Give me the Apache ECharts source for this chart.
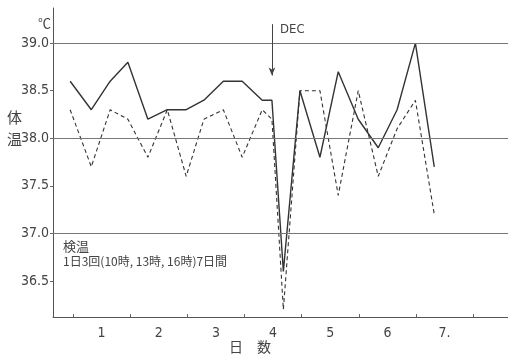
<!DOCTYPE html>
<html><head><meta charset="utf-8">
<script src="https://cdn.jsdelivr.net/npm/echarts@6/dist/echarts.min.js"></script>
<style>html,body{margin:0;padding:0;background:#fff}#c{width:508px;height:360px}</style>
</head><body><div id="c"></div>
<script>
const readingDays = [0.45,0.82,1.15,1.46,1.81,2.15,2.48,2.79,3.13,3.46,3.81,3.98,4.18,4.47,4.82,5.14,5.49,5.84,6.17,6.49,6.82];
const solidTemps = [38.6,38.3,38.6,38.8,38.2,38.3,38.3,38.4,38.6,38.6,38.4,38.4,36.6,38.5,37.8,38.7,38.2,37.9,38.3,39.0,37.7];
const dashedTemps = [38.3,37.7,38.3,38.2,37.8,38.3,37.6,38.2,38.3,37.8,38.3,38.2,36.2,38.5,38.5,37.4,38.5,37.6,38.1,38.4,37.2];
const dayLabels = ['1','2','3','4','5','6','7.'];
const dayLabelPos = [1,2,3,4,5,6,7];
const dayBoundaries = [0.5,1.5,2.5,3.5,4.5,5.5,6.5,7.5];
const tempTicks = [36.5,37.0,37.5,38.0,38.5,39.0];
const tempGridLines = [37.0,38.0,39.0];
const decDay = 3.98;
const decFrom = 39.2, decTo = 38.66;

const font = '"Liberation Sans Narrow","DejaVu Sans Condensed","Liberation Sans",sans-serif';
const cjk = '"Noto Sans CJK JP",sans-serif';
const ink = '#333';
const chart = echarts.init(document.getElementById('c'), null, {renderer:'canvas'});
chart.setOption({
  backgroundColor:'#fff',
  animation:false,
  grid:{left:53, right:0, top:8, bottom:43},
  xAxis:{
    type:'value', min:0.15, max:8.11,
    axisLine:{lineStyle:{color:'#555', width:1}},
    axisTick:{customValues:dayBoundaries, inside:true, length:3, lineStyle:{color:'#666'}},
    axisLabel:{customValues:dayLabelPos, color:'#444', fontFamily:font, fontSize:14, margin:9,
      formatter:v=>{const i=dayLabelPos.indexOf(v); return i>=0?dayLabels[i]:'';}},
    splitLine:{show:false}
  },
  yAxis:{
    type:'value', min:36.12, max:39.37,
    axisLine:{show:true, lineStyle:{color:'#555', width:1}},
    axisTick:{show:true, customValues:tempTicks, length:3, lineStyle:{color:'#666'}},
    axisLabel:{customValues:tempTicks, color:'#444', fontFamily:font, fontSize:14, margin:4,
      formatter:v=>v.toFixed(1)},
    splitLine:{show:false}
  },
  series:[
    {type:'line', data:readingDays.map((d,i)=>[d,solidTemps[i]]), showSymbol:false,
     lineStyle:{color:ink, width:1.4}, z:3,
     markLine:{silent:true, symbol:'none', label:{show:false},
       lineStyle:{color:'#777', width:1, type:'solid'},
       data:tempGridLines.map(v=>({yAxis:v}))}},
    {type:'line', data:readingDays.map((d,i)=>[d,dashedTemps[i]]), showSymbol:false,
     lineStyle:{color:ink, width:1.1, type:[4,3]}, z:3,
     markLine:{silent:true, symbol:['none','arrow'], symbolSize:[5,8], label:{show:false},
       lineStyle:{color:'#444', width:1, type:'solid'},
       data:[[{coord:[decDay,decFrom]},{coord:[decDay,decTo]}]]}}
  ],
  graphic:[
    {type:'text', left:38, top:17, style:{text:'℃', font:'13px '+cjk, fill:'#444'}},
    {type:'text', left:7, top:110, style:{text:'体', font:'15px '+cjk, fill:'#444'}},
    {type:'text', left:7, top:132, style:{text:'温', font:'15px '+cjk, fill:'#444'}},
    {type:'text', left:280, top:23, style:{text:'DEC', font:'13px '+font, fill:'#444'}},
    {type:'text', left:63, top:240, style:{text:'検温', font:'13px '+cjk, fill:'#444'}},
    {type:'text', left:63, top:255, style:{text:'1日3回(10時, 13時, 16時)7日間', font:'12px '+cjk, fill:'#444'}},
    {type:'text', left:229, top:340, style:{text:'日　数', font:'14px '+cjk, fill:'#444'}}
  ]
});
</script></body></html>
